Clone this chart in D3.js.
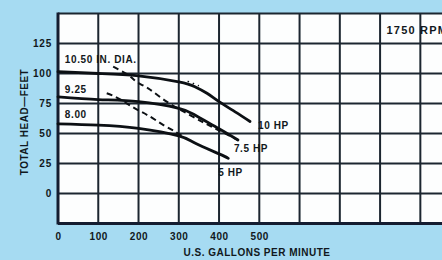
<!DOCTYPE html>
<html>
<head>
<meta charset="utf-8">
<script src="https://cdn.jsdelivr.net/npm/d3@7"></script>
<style>
  body { margin: 0; background: #a6dbf2; }
  svg { display: block; }
  text { font-family: "Liberation Sans", Arial, sans-serif; font-weight: bold; fill: #111820; }
</style>
</head>
<body>
<svg id="chart" width="442" height="260"></svg>
<script>
// Impeller curves (gpm, feet)
const dia1050 = [[0, 101.5], [100, 100], [200, 98], [300, 93], [340, 89], [370, 83.5], [400, 76.5], [440, 68], [477, 60]];
const dia925 = [[0, 80.5], [100, 78.3], [200, 76.5], [300, 71], [340, 65.4], [400, 54], [447, 44.6]];
const dia800 = [[0, 58], [100, 57], [200, 54.3], [300, 48], [340, 42], [400, 33], [423, 29.3]];
// Horsepower limit lines
const hp75 = [[137, 105.7], [175, 98.7], [195, 93.1], [224, 87.6], [270, 76.5], [320, 66.8], [365, 58.5], [398, 52.9], [447, 44.6]];
const hp5 = [[121, 83.5], [142, 80.7], [191, 71], [229, 64], [262, 57], [291, 51.5], [311, 47.3]];
const hp10 = [[322, 93.5], [350, 89.8]];

const curveLabels = [
  { text: '10.50 IN. DIA.', gpm: 17, ft: 108.5 },
  { text: '9.25', gpm: 17, ft: 84 },
  { text: '8.00', gpm: 17, ft: 63 }
];
const hpLabels = [
  { text: '10 HP', gpm: 497, ft: 54 },
  { text: '7.5 HP', gpm: 437, ft: 35 },
  { text: '5 HP', gpm: 398, ft: 15 }
];
const xTickLabels = [0, 100, 200, 300, 400, 500];
const yTickLabels = [0, 25, 50, 75, 100, 125];
const xGrid = d3.range(0, 1001, 100);
const yGrid = d3.range(-25, 151, 25);

const svg = d3.select('#chart');
const x = d3.scaleLinear().domain([0, 1000]).range([58, 460.6]);
const y = d3.scaleLinear().domain([-25, 150]).range([223.5, 13.5]);

// plot area
svg.append('rect')
  .attr('x', x(0)).attr('y', y(150))
  .attr('width', x(1000) - x(0)).attr('height', y(-25) - y(150))
  .attr('fill', '#fdfefe');

// grid
const grid = svg.append('g').attr('stroke', '#1c2630').attr('stroke-width', 2);
grid.selectAll('.vx').data(xGrid).enter().append('line')
  .attr('x1', d => x(d)).attr('x2', d => x(d))
  .attr('y1', y(150)).attr('y2', y(-25));
grid.selectAll('.hy').data(yGrid).enter().append('line')
  .attr('x1', x(0)).attr('x2', x(1000))
  .attr('y1', d => y(d)).attr('y2', d => y(d));
// heavier frame on left and bottom
svg.append('line').attr('x1', x(0)).attr('x2', x(0)).attr('y1', y(150) - 1).attr('y2', y(-25) + 1)
  .attr('stroke', '#141c30').attr('stroke-width', 3);
svg.append('line').attr('x1', x(0)).attr('x2', x(1000)).attr('y1', y(-25)).attr('y2', y(-25))
  .attr('stroke', '#141c30').attr('stroke-width', 3);

// axes labels via d3 axes
const xAxis = svg.append('g')
  .attr('transform', `translate(0,${y(-25)})`)
  .call(d3.axisBottom(x).tickValues(xTickLabels).tickSize(0).tickPadding(9));
xAxis.select('.domain').remove();
xAxis.selectAll('text').attr('font-size', 10).attr('letter-spacing', 0.6).style('fill', '#111820')
  .style('font-family', '"Liberation Sans", Arial, sans-serif').style('font-weight', 'bold');

const yAxis = svg.append('g')
  .attr('transform', `translate(${x(0)},0)`)
  .call(d3.axisLeft(y).tickValues(yTickLabels).tickSize(0).tickPadding(6));
yAxis.select('.domain').remove();
yAxis.selectAll('text').attr('font-size', 10).attr('letter-spacing', 0.8).style('fill', '#111820')
  .style('font-family', '"Liberation Sans", Arial, sans-serif').style('font-weight', 'bold');

svg.append('text')
  .attr('x', 257).attr('y', 255.5)
  .attr('text-anchor', 'middle').attr('font-size', 10).attr('letter-spacing', 0.5)
  .text('U.S. GALLONS PER MINUTE');
svg.append('text')
  .attr('transform', 'translate(27.5,122) rotate(-90)')
  .attr('text-anchor', 'middle').attr('font-size', 10).attr('letter-spacing', 0.5)
  .text('TOTAL HEAD\u2014FEET');

// the source image is cropped through this label
svg.append('text')
  .attr('x', 386.5).attr('y', 33.5)
  .attr('font-size', 11).attr('letter-spacing', 1.2)
  .text('1750 RPM');

// curves
const smooth = d3.line().x(d => x(d[0])).y(d => y(d[1])).curve(d3.curveNatural);
const line = d3.line().x(d => x(d[0])).y(d => y(d[1])).curve(d3.curveCatmullRom.alpha(0.5));

svg.append('g').attr('fill', 'none').attr('stroke', '#0c1014').attr('stroke-width', 2.8)
  .attr('stroke-linecap', 'round')
  .selectAll('path').data([dia1050, dia925, dia800]).enter().append('path')
  .attr('d', smooth);

svg.append('g').attr('fill', 'none').attr('stroke', '#0c1014').attr('stroke-width', 2)
  .attr('stroke-dasharray', '6,4')
  .selectAll('path').data([hp75, hp5]).enter().append('path')
  .attr('d', line);

svg.append('path').datum(hp10)
  .attr('fill', 'none').attr('stroke', '#0c1014').attr('stroke-width', 1.5)
  .attr('stroke-dasharray', '1.5,4')
  .attr('d', line);

svg.selectAll('.clabel').data(curveLabels).enter().append('text')
  .attr('x', d => x(d.gpm)).attr('y', d => y(d.ft))
  .attr('font-size', 10).attr('letter-spacing', 0.6)
  .text(d => d.text);

svg.selectAll('.hlabel').data(hpLabels).enter().append('text')
  .attr('x', d => x(d.gpm)).attr('y', d => y(d.ft))
  .attr('font-size', 10).attr('letter-spacing', 0.6)
  .text(d => d.text);
</script>
</body>
</html>
